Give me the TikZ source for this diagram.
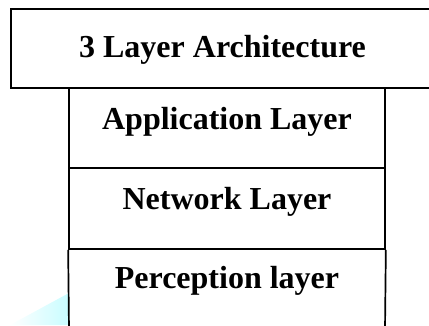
\documentclass[tikz,border=0pt]{standalone}
\usepackage{fontspec}
\setmainfont{Liberation Serif}
\begin{document}
\begin{tikzpicture}[x=1pt,y=-1pt,
  boxframe/.style={draw=black, line width=1.7pt, fill=white, inner sep=0pt},
  layertext/.style={anchor=base, font=\fontsize{32}{36}\selectfont\bfseries, inner sep=0pt}]
\useasboundingbox (0,0) rectangle (429,325);
\definecolor{palecyan}{RGB}{200,252,255}
% faint cyan shape at lower left
\shade[left color=white, right color=palecyan] (10,325) -- (69,293) -- (69,325) -- cycle;
% title box
\node[boxframe, minimum width=423pt, minimum height=79pt] (titlebox) at (222.5,48.5) {};
\node[layertext] (title) at (222.5,57) {3 Layer Architecture};
% layer boxes
\node[boxframe, minimum width=316pt, minimum height=80pt] (appbox) at (227,128) {};
\node[boxframe, minimum width=316pt, minimum height=81pt] (netbox) at (227,208.5) {};
\coordinate (pl) at (69,330);
\coordinate (pr) at (385,330);
\draw[line width=1.7pt] (netbox.south west) -- (pl);
\draw[line width=1.7pt] (netbox.south east) -- (pr);
\node[layertext] (app) at (227,129) {Application Layer};
\node[layertext] (net) at (227,209) {Network Layer};
\node[layertext] (per) at (227,288) {Perception layer};
\end{tikzpicture}
\end{document}
